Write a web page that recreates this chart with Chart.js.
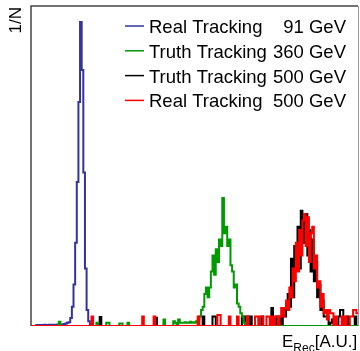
<html>
<head>
<meta charset="UTF-8">
<script src="https://cdn.jsdelivr.net/npm/chart.js@4.4.0/dist/chart.umd.min.js"></script>
<style>body{margin:0;background:#fff}</style>
</head>
<body>
<canvas id="erec" width="360" height="351"></canvas>
<script>
// 200 bins over E_Rec, values in 1/N (arbitrary units, axis top = 100)
const nBins = 200;
const legendNames = ['Real Tracking', 'Truth Tracking', 'Truth Tracking', 'Real Tracking'];
const legendEnergies = ['91 GeV', '360 GeV', '500 GeV', '500 GeV'];

const real91 = [
	0,0,0,0.2,0.3,0.3,0.3,0.3,0.4,0.3,0.3,0.4,0.4,0.3,0.4,0.4,0.5,0.4,0.5,0.5,
	0.6,0.8,1,1.2,2.5,6,13,26,45,70,95,80,48,18,5,1.5,0.5,0,0,0,
	0,0,0,0,0,0,0,0,0,0,0,0,0,0,0,0,0,0,0,0,
	0,0,0,0,0,0,0,0,0,0,0,0,0,0,0,0,0,0,0,0,
	0,0,0,0,0,0,0,0,0,0,0,0,0,0,0,0,0,0,0,0,
	0,0,0,0,0,0,0,0,0,0,0,0,0,0,0,0,0,0,0,0,
	0,0,0,0,0,0,0,0,0,0,0,0,0,0,0,0,0,0,0,0,
	0,0,0,0,0,0,0,0,0,0,0,0,0,0,0,0,0,0,0,0,
	0,0,0,0,0,0,0,0,0,0,0,0,0,0,0,0,0,0,0,0,
	0,0,0,0,0,0,0,0,0,0,0,0,0,0,0,0,0,0,0,0
];
const truth360 = [
	0,0,0,0,0,0,0,0,0,0,0,0,0,0,0,0,0,1.3,0,0,
	0,0,0,0,0,0,0,0,0,0,0,0,0,0,0,0,0,0,0,0,
	1,0,0,0,0,0,1,1,0,0,0,0,0,0,0.8,0.8,0,0,0,1,
	0,0,0,0,0,0,0,0,0,0,0,0,0,0,0,0,0,0,0,0,
	0,2,0,0,0,0,0,1.5,1,0,2,1,1,1,1.2,1,1,1.3,1,1.2,
	1,1.5,2,3,5,6,10,12,9,12,17,22,16,24,20,27,25,40,29,31,
	25,27,19,17,12,13,7,6,4,3,1,0,0.5,0,0,0,0,0,0,0,
	0,0,0,0,0,0,0,0,0,0,0,0,0,0,0,0,0,0,0,0,
	0,0,0,0,0,0,0,0,0,0,0,0,0,0,0,0,0,0,0,0,
	0,0,0,0,0,0,0,0,0,0,0,0,0,0,0,0,0,0,0,0
];
const truth500 = [
	0,0,0,0,0,0,0,0,0,0,0,0,0,0,0,0,0,0,0,0,
	0,0,0,0,0,0,0,0,0,0,0,0,0,0,0,0,0,0,0,0,
	0,0,2.8,0,0,0,0,0,0,0,0,0,0,0,0,0,0,0,0,0,
	0,0,0,0,0,0,0,0,0,0,0,0,0,0,0,0,2.6,0,0,0,
	0,0,0,0,0,0,0,0,0,0,0,0,0,0,0,0,0,0,0,0,
	0,0,0,0,0,3,0,0,0,0,0,3,3,0,0,0,0,0,0,0,
	0,0,0,0,0,0,0,0,0,3,3,0,3,0,3,0,0,0,0,0,
	0,3,0,0,0,0,0,5.6,0,0,3,0,3,0,4,3,7,10,6,21,
	9,25,20,31,18,36,26,33,35,22,30,17,27,14,20,9,13,5,8,3,
	3,3,0,1,2,0,0,0,3,5,5,0,0,3,0,0,0,0,3,0
];
const real500 = [
	0,0,0,0,0,0,0,0,0,0,0,0,0,0,0,0,0,0,0,0,
	0,0,0,0,0,0,0,0,0,0,0,0,0,0,0,0,0,3,0,0,
	0,0,0,0,0,0,0,0,0,0,0,0,0,0,0,0,0,0,0,0,
	0,0,0,0,0,0,0,0,3,0,0,0,0,0,0,3,0,0,0,0,
	0,0,0,0,0,0,0,0,0,0,0,0,0,0,0,0,0,0,0,0,
	0,0,3,0,0,0,0,0,0,0,0,0,0,0,3.4,3.4,0,0,0,0,
	0,3,0,0,0,0,3,0,0,0,0,0,3,0,0,0,0,3,3,0,
	3,3,0,0,3,3,0,3,0,3,3,0,3,5.6,3,5.6,8,5,12,9,
	18,14,26,17,30,22,33,35,25,34,20,29,31,18,22,12,14,6,10,4,
	5,2,5,4,4,0,3,0,0,0,3,0,3,0,0,3,3,5,5,4
];

const colors = ['#33339f', '#009900', '#000000', '#ff0000'];

function steps(arr){
	var pts = [];
	for (var i = 0; i < arr.length; i++) pts.push({x: i, y: arr[i]});
	pts.push({x: arr.length, y: arr[arr.length - 1]});
	return pts;
}

const FONT = '"Liberation Sans", Arial, Helvetica, sans-serif';

const decor = {
	id: 'decor',
	afterDatasetsDraw(chart){
		const c = chart.ctx, a = chart.chartArea;
		c.save();
		// frame
		c.lineWidth = 1.5;
		c.strokeStyle = '#444';
		c.beginPath();
		c.moveTo(a.left, a.bottom); c.lineTo(a.left, a.top); c.lineTo(a.right, a.top);
		c.stroke();
		c.strokeStyle = '#999';
		c.lineWidth = 1;
		c.beginPath();
		c.moveTo(a.right + 0.5, a.top); c.lineTo(a.right + 0.5, a.bottom);
		c.stroke();
		// legend
		c.fillStyle = '#000';
		c.font = '18.5px ' + FONT;
		c.textBaseline = 'alphabetic';
		for (var i = 0; i < legendNames.length; i++) {
			var yl = 26 + i * 24.8;
			c.strokeStyle = colors[i];
			c.lineWidth = 1.5;
			c.beginPath(); c.moveTo(125, yl); c.lineTo(144, yl); c.stroke();
			c.textAlign = 'left';
			c.fillText(legendNames[i], 149, yl + 7);
			c.textAlign = 'right';
			c.fillText(legendEnergies[i], 346, yl + 7);
		}
		// y title
		c.save();
		c.font = '17px ' + FONT;
		c.translate(20.5, 7);
		c.rotate(-Math.PI / 2);
		c.textAlign = 'right';
		c.fillText('1/N', 0, 0);
		c.restore();
		// x title
		c.textAlign = 'left';
		c.font = '17px ' + FONT;
		c.fillText('E', 282, 347);
		var w = c.measureText('E').width;
		c.font = '12px ' + FONT;
		c.fillText('Rec', 282 + w, 352);
		var w2 = c.measureText('Rec').width;
		c.font = '17px ' + FONT;
		c.fillText('[A.U.]', 282 + w + w2, 347);
		c.restore();
	}
};

const datasets = [real500, truth360, truth500, real91].map(function(arr, k){
	var idx = [3, 1, 2, 0][k];
	return {
		label: legendNames[idx] + ' ' + legendEnergies[idx],
		data: steps(arr),
		stepped: true,
		borderColor: colors[idx],
		borderWidth: 2,
		pointRadius: 0,
		fill: false
	};
});

new Chart(document.getElementById('erec').getContext('2d'), {
	type: 'line',
	data: {datasets: datasets},
	options: {
		responsive: false,
		devicePixelRatio: 1,
		animation: false,
		layout: {padding: {left: 31, top: 6, right: 2, bottom: 25}},
		plugins: {legend: {display: false}, tooltip: {enabled: false}},
		scales: {
			x: {type: 'linear', min: 0, max: nBins, display: false},
			y: {type: 'linear', min: 0, max: 100, display: false}
		}
	},
	plugins: [decor]
});
</script>
</body>
</html>
